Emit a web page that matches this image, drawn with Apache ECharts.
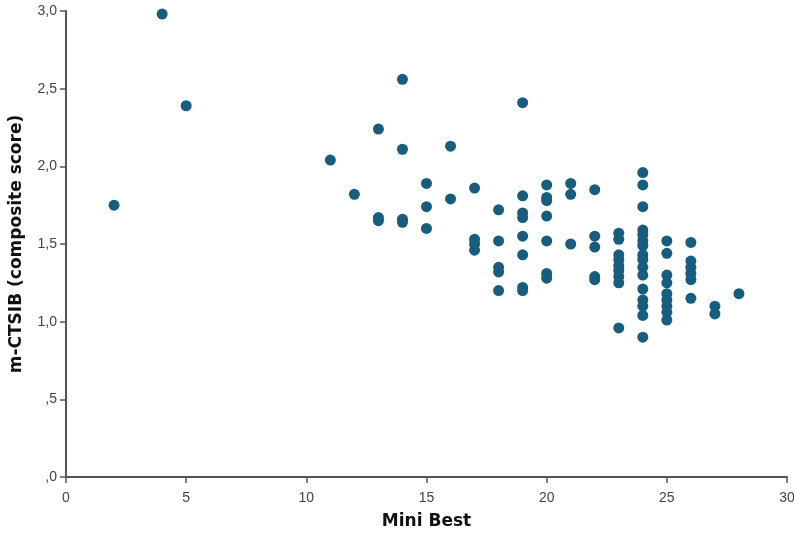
<!DOCTYPE html>
<html>
<head>
<meta charset="utf-8">
<script src="https://cdn.jsdelivr.net/npm/echarts@6/dist/echarts.min.js"></script>
<style>
  html, body { margin: 0; padding: 0; background: #fff; }
  #chart { width: 794px; height: 533px; }
</style>
</head>
<body>
<div id="chart"></div>
<script>
// Mini Best score per participant
const miniBest = [
  2, 4, 5, 11, 12, 13, 13, 13, 14, 14, 14, 14,
  15, 15, 15, 16, 16, 17, 17, 17, 17,
  18, 18, 18, 18, 18,
  19, 19, 19, 19, 19, 19, 19, 19,
  20, 20, 20, 20, 20, 20, 20,
  21, 21, 21,
  22, 22, 22, 22, 22,
  23, 23, 23, 23, 23, 23, 23, 23, 23,
  24, 24, 24, 24, 24, 24, 24, 24, 24, 24, 24, 24, 24, 24, 24, 24,
  25, 25, 25, 25, 25, 25, 25, 25, 25,
  26, 26, 26, 26, 26, 26,
  27, 27, 28
];
// m-CTSIB composite score per participant
const ctsib = [
  1.75, 2.98, 2.39, 2.04, 1.82, 2.24, 1.67, 1.65, 2.56, 2.11, 1.66, 1.64,
  1.89, 1.74, 1.60, 2.13, 1.79, 1.86, 1.53, 1.50, 1.46,
  1.72, 1.52, 1.35, 1.32, 1.20,
  2.41, 1.81, 1.70, 1.67, 1.55, 1.43, 1.22, 1.20,
  1.88, 1.80, 1.78, 1.68, 1.52, 1.31, 1.28,
  1.89, 1.82, 1.50,
  1.85, 1.55, 1.48, 1.29, 1.27,
  1.57, 1.53, 1.43, 1.40, 1.36, 1.33, 1.29, 1.25, 0.96,
  1.96, 1.88, 1.74, 1.59, 1.56, 1.52, 1.49, 1.43, 1.40, 1.35, 1.30, 1.21, 1.14, 1.10, 1.04, 0.90,
  1.52, 1.44, 1.30, 1.25, 1.18, 1.14, 1.10, 1.06, 1.01,
  1.51, 1.39, 1.35, 1.31, 1.27, 1.15,
  1.10, 1.05, 1.18
];
const xTitle = 'Mini Best';
const yTitle = 'm-CTSIB (composite score)';

const points = miniBest.map((x, i) => [x, ctsib[i]]);

const chart = echarts.init(document.getElementById('chart'));
const axisCol = '#555';
const labelFont = { color: '#444', fontSize: 14, fontFamily: 'Liberation Sans, Arial, sans-serif' };
const titleFont = { color: '#111', fontSize: 17, fontWeight: 'bold', fontFamily: 'DejaVu Sans, sans-serif' };

chart.setOption({
  animation: false,
  grid: { left: 66, right: 7, top: 11, bottom: 56, outerBoundsMode: 'none' },
  xAxis: {
    type: 'value', min: 0, max: 30, interval: 5,
    name: xTitle, nameLocation: 'middle', nameGap: 36,
    nameTextStyle: titleFont,
    axisLine: { lineStyle: { color: axisCol, width: 2 } },
    axisTick: { show: true, length: 6, lineStyle: { color: axisCol, width: 1.5 } },
    axisLabel: Object.assign({ margin: 14 }, labelFont),
    splitLine: { show: false }
  },
  yAxis: {
    type: 'value', min: 0, max: 3, interval: 0.5,
    name: yTitle, nameLocation: 'middle', nameGap: 41, nameMoveOverlap: false,
    nameTextStyle: titleFont,
    axisLine: { show: true, lineStyle: { color: axisCol, width: 2 } },
    axisTick: { show: true, length: 6, lineStyle: { color: axisCol, width: 1.5 } },
    axisLabel: Object.assign({
      margin: 9,
      formatter: v => v.toFixed(1).replace('.', ',').replace(/^0,/, ',')
    }, labelFont),
    splitLine: { show: false }
  },
  series: [{
    type: 'scatter',
    data: points,
    symbolSize: 11,
    itemStyle: { color: '#175d7e', opacity: 1 }
  }]
});
</script>
</body>
</html>
